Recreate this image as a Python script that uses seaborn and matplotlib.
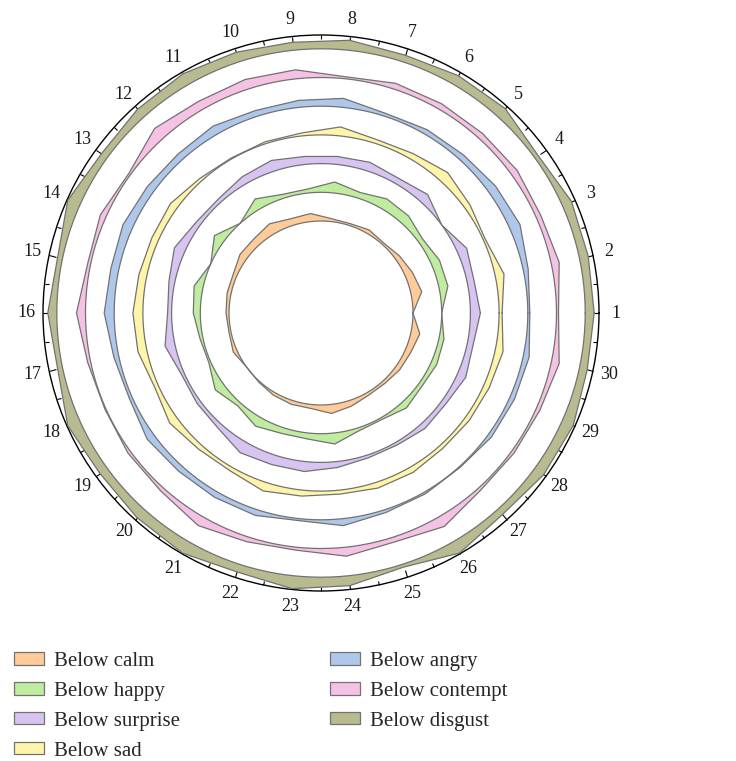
import numpy as np
import matplotlib.pyplot as plt
import seaborn as sns
from matplotlib.patches import Patch

# Theme first, then fonts (set_theme resets font.family)
sns.set_theme(style="ticks")
plt.rcParams['font.family'] = ['Liberation Serif', 'DejaVu Serif']

# Data: 30 positions, deviation of each series above its ring
positions = [str(i) for i in range(1, 31)]
names = ['Below calm', 'Below happy', 'Below surprise', 'Below sad',
         'Below angry', 'Below contempt', 'Below disgust']
colors = ['#FFCC99', '#C0ECA0', '#D8C4F0', '#FFF5AA',
          '#AFC7EB', '#F5C2E3', '#B9BA8F']

calm = [0, 11, 8, 5, 2, 4, 2, 3, 8, 7, 11, 8, 8, 4, 4,
        3, 2, 4, 0, 1, 3, 4, 4, 9, 6, 3, 3, 5, 6, 9]
happy = [0, 9, 9, 5, 10, 11, 6, 11, 4, 4, 11, 0, 11, 0, 9,
         7, 3, 2, 10, 4, 10, 6, 6, 11, 3, 2, 7, 4, 6, 5]
surprise = [10, 7, 10, 0, 10, 6, 9, 8, 8, 11, 8, 4, 5, 11, 6,
            4, 10, 3, 4, 5, 12, 10, 10, 6, 3, 3, 6, 5, 9, 6]
sad = [3, 9, 2, 6, 11, 6, 4, 9, 3, 2, 1, 3, 8, 7, 8,
       10, 9, 4, 9, 5, 4, 9, 6, 4, 6, 6, 4, 5, 6, 8]
angry = [2, 5, 11, 9, 6, 5, 3, 9, 7, 6, 9, 7, 8, 10, 8,
         10, 5, 3, 8, 6, 6, 6, 2, 7, 3, 2, 1, 4, 5, 6]
contempt = [2, 8, 5, 7, 6, 6, 6, 2, 9, 10, 9, 13, 2, 6, 3,
            9, 3, 1, 3, 4, 10, 5, 3, 9, 5, 11, 3, 3, 4, 8]
disgust = [9, 9, 10, 4, 11, 10, 7, 10, 8, 10, 12, 10, 7, 13, 5,
           9, 5, 13, 9, 11, 13, 8, 13, 10, 3, 13, 7, 11, 12, 8]
series = [calm, happy, surprise, sad, angry, contempt, disgust]

# Ring layout
ring_start, ring_step, r_max = 92, 28.7, 278
edge_color = '#727272'

fig = plt.figure(figsize=(7.36, 7.61), dpi=100)
ax = fig.add_axes([43 / 736, 170 / 761, 556 / 736, 556 / 761], projection='polar')

theta = np.deg2rad(np.arange(len(positions)) * 12)
theta_c = np.append(theta, 2 * np.pi)
circ = np.linspace(0, 2 * np.pi, 361)

for k, (vals, color) in enumerate(zip(series, colors)):
    base = ring_start + ring_step * k
    r_c = base + np.append(vals, vals[0])
    # area between the ring and the series polygon
    ax.fill(np.concatenate([theta_c, circ[::-1]]),
            np.concatenate([r_c, np.full(circ.size, base)]),
            facecolor=color, edgecolor='none', zorder=2)
    sns.lineplot(x=theta_c, y=r_c, sort=False, estimator=None,
                 color=edge_color, linewidth=0.9, ax=ax, zorder=3)
    ax.plot(circ, np.full(circ.size, base), color=edge_color,
            linewidth=0.9, zorder=3)

ax.set_ylim(0, r_max)
ax.set_yticks([])
ax.set_xticks(theta, positions)
ax.set_xticks(theta + np.deg2rad(6), minor=True)
ax.grid(False)
ax.set_xlabel('')
ax.set_ylabel('')
ax.spines['polar'].set_color('black')
ax.spines['polar'].set_linewidth(1.0)
# tick2 sits on the outer circle of a polar axis
ax.tick_params(axis='x', which='both', bottom=False, top=True)
ax.tick_params(axis='x', which='major', direction='in', length=5.5, width=0.8,
               color='black', pad=5, labelsize=13, labelcolor='#1a1a1a')
ax.tick_params(axis='x', which='minor', direction='in', length=3, width=0.8,
               color='black')
for t in ax.xaxis.get_major_ticks() + ax.xaxis.get_minor_ticks():
    t.tick2line.set_zorder(5)

# Legend
handles = [Patch(facecolor=c, edgecolor=edge_color, linewidth=0.9) for c in colors]
fig.legend(handles, names, loc='upper left', bbox_to_anchor=(14 / 736, 1 - 652 / 761),
           ncol=2, frameon=False, fontsize=15, handlelength=1.45, handleheight=0.53,
           handletextpad=0.48, labelspacing=0.52, columnspacing=7.2,
           borderpad=0, borderaxespad=0)

fig.savefig('out.png', dpi=100)
